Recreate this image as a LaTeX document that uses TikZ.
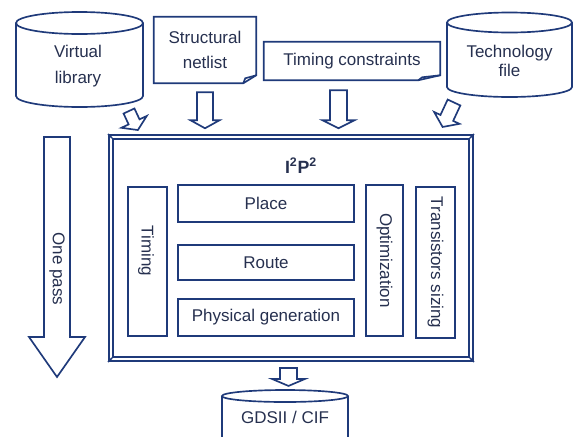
\documentclass[tikz,border=0pt]{standalone}
\usepackage{fontspec}
\setmainfont{Liberation Sans}
\usetikzlibrary{calc}

\definecolor{navy}{HTML}{1F3A7A}
\definecolor{ink}{HTML}{26304F}

\tikzset{
  line/.style={draw=navy, line width=1.25pt},
  stage/.style={line, inner sep=0pt, text=ink},
  txt/.style={inner sep=0pt, text=ink, align=center},
  pics/fat arrow/.style n args={4}{code={
    \draw[line, line join=miter] (-#1,0) -- (-#1,#3) -- (-#2,#3) -- (0,#3+#4)
      -- (#2,#3) -- (#1,#3) -- (#1,0) -- cycle;}}
}

\begin{document}
\begin{tikzpicture}[x=0.75pt, y=-0.75pt, font=\fontsize{12.75}{15}\selectfont]
    \clip (0,0) rectangle (573,436);

    % inputs
    \draw[line] (79.5,23) ellipse [x radius=63.5, y radius=11];
    \draw[line] (16,23) -- (16,96) arc [start angle=180, end angle=0, x radius=63.5, y radius=11] -- (143,23);
    \node[txt, font=\fontsize{12.75}{20}\selectfont] (virtlib) at (78,66) {Virtual\\library};

    \draw[line] (509.5,22.5) ellipse [x radius=62.5, y radius=10];
    \draw[line] (447,22.5) -- (447,87) arc [start angle=180, end angle=0, x radius=62.5, y radius=10] -- (572,22.5);
    \node[txt, font=\fontsize{12.75}{14.25}\selectfont] (techfile) at (509.5,61) {Technology\\file};

    \node[txt, minimum width=76.5pt, minimum height=49.5pt, font=\fontsize{12.75}{19}\selectfont] (netlist) at (205,50) {Structural\\netlist};
    \draw[line] (netlist.south west) -- (netlist.north west) -- (netlist.north east)
      -- ($(netlist.south east)+(0,-8)$) -- ($(netlist.south east)+(-13,0)$) -- cycle;
    \draw[line] ($(netlist.south east)+(-13,0)$) -- ($(netlist.south east)+(-11,-5)$) -- ($(netlist.south east)+(0,-8)$);

    \node[txt, minimum width=132pt, minimum height=28.5pt] (constr) at (352,61) {Timing constraints};
    \draw[line] (constr.south west) -- (constr.north west) -- (constr.north east)
      -- ($(constr.south east)+(0,-5)$) -- ($(constr.south east)+(-22,0)$) -- cycle;
    \draw[line] ($(constr.south east)+(-22,0)$) -- ($(constr.south east)+(-18,-3)$) -- ($(constr.south east)+(0,-5)$);

    \pic[rotate=25] at (129,111) {fat arrow={6}{14}{12}{9}};
    \pic at ($(netlist.south)+(0,9)$) {fat arrow={8}{14.5}{28}{8}};
    \pic at ($(constr.south)+(-13.5,10)$) {fat arrow={8.5}{16}{30}{8}};
    \pic[rotate=-25] at (454,102.5) {fat arrow={7}{14}{17}{10}};

    % I2P2 frame
    \node[draw=navy, line width=1.4pt, double, double distance=1.6pt, minimum width=270pt, minimum height=166.5pt] (core) at (291,248) {};
    \foreach \c/\dx/\dy in {north west/1/1, north east/-1/1, south west/1/-1, south east/-1/-1}
      \draw[line] ($(core.\c)+(-2*\dx,-2*\dy)$) -- ($(core.\c)+(2*\dx,2*\dy)$);
    \node[txt, anchor=base, font=\fontsize{13.3}{16}\selectfont\bfseries] (title) at (301,173) {I\textsuperscript{2}P\textsuperscript{2}};

    \node[stage, minimum width=132pt, minimum height=27.75pt] (place) at (266,203.5) {Place};
    \node[stage, minimum width=132pt, minimum height=26.25pt] (route) at (266,262.5) {Route};
    \node[stage, minimum width=132pt, minimum height=27.75pt] (physgen) at (266,317.5) {Physical generation};
    \node[stage, rotate=-90, minimum width=111.75pt, minimum height=29.25pt] (timing) at (147.5,261.5) {};
    \node[txt, rotate=-90] at (146,251) {Timing};
    \node[stage, rotate=-90, minimum width=113.25pt, minimum height=27.75pt] (optim) at (384.5,260.5) {Optimization};
    \node[stage, rotate=-90, minimum width=113.25pt, minimum height=29.25pt] (sizing) at (435.5,262.5) {Transistors sizing};

    % one pass + output
    \pic at (57,137) {fat arrow={13}{28}{200}{40}};
    \node[txt, rotate=-90] (onepass) at (57,269) {One pass};

    \pic at ($(core.south)+(-2.5,8)$) {fat arrow={8.5}{16.5}{11}{7}};
    \draw[line] (285,396) ellipse [x radius=63, y radius=6];
    \draw[line] (222,396) -- (222,440) (348,396) -- (348,440);
    \node[txt, anchor=base] (gdsii) at (285,423) {GDSII / CIF};
\end{tikzpicture}
\end{document}
